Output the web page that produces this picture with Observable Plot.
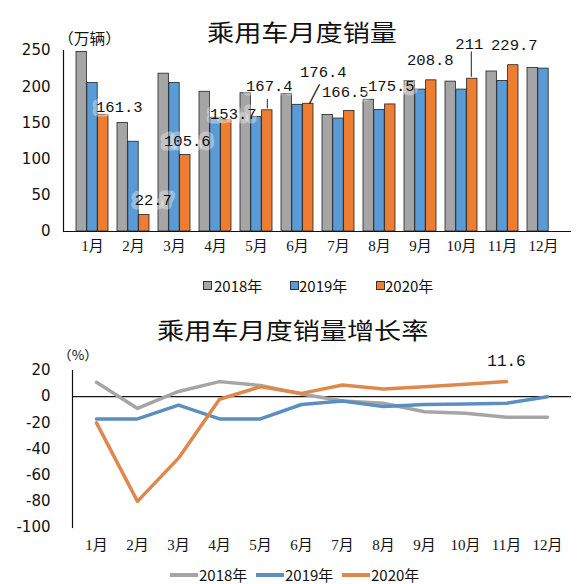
<!DOCTYPE html>
<html>
<head>
<meta charset="utf-8">
<script src="https://cdn.jsdelivr.net/npm/d3@7"></script>
<script src="https://cdn.jsdelivr.net/npm/@observablehq/plot@0.6"></script>
<style>
  body { margin: 0; background: #fff; }
  #wrap { position: relative; width: 585px; height: 584px; overflow: hidden; font-family: "Noto Sans CJK SC", sans-serif; color: #111; }
  .abs { position: absolute; white-space: nowrap; line-height: 1; transform-origin: left center; }
  .title { font-size: 23px; transform: scaleX(1.18); }
  .unit { font-size: 15px; transform: scaleX(1.05); }
  .leg { font-size: 15px; }
  .sw { position: absolute; width: 7px; height: 7px; border: 1px solid #333; }
  .ln { position: absolute; height: 4px; }
  #top, #bottom { position: absolute; left: 0; }
  #top { top: 0; }
  #bottom { top: 300px; }
</style>
</head>
<body>
<div id="wrap">
  <div class="abs title" style="left:207px; top:20px;">乘用车月度销量</div>
  <div class="abs unit" style="left:58px; top:30px;">（万辆）</div>
  <div id="top"></div>

  <div class="sw" style="left:203px; top:281px; background:#a5a5a5"></div>
  <div class="abs leg" style="left:214px; top:278px;">2018年</div>
  <div class="sw" style="left:290px; top:281px; background:#5b9bd5"></div>
  <div class="abs leg" style="left:299px; top:278px;">2019年</div>
  <div class="sw" style="left:376px; top:281px; background:#ed7d31"></div>
  <div class="abs leg" style="left:385px; top:278px;">2020年</div>

  <div class="abs title" style="left:157px; top:318px;">乘用车月度销量增长率</div>
  <div class="abs unit" style="left:58px; top:348px; font-size:13px;">（%）</div>
  <div id="bottom"></div>

  <div class="ln" style="left:170px; top:573px; width:28px; background:#a5a5a5"></div>
  <div class="abs leg" style="left:199px; top:567px;">2018年</div>
  <div class="ln" style="left:256px; top:573px; width:28px; background:#5b8fbf"></div>
  <div class="abs leg" style="left:285px; top:567px;">2019年</div>
  <div class="ln" style="left:342px; top:573px; width:28px; background:#df884c"></div>
  <div class="abs leg" style="left:371px; top:567px;">2020年</div>
</div>
<script>
const months = ["1月", "2月", "3月", "4月", "5月", "6月", "7月", "8月", "9月", "10月", "11月", "12月"]
const years = ["2018年", "2019年", "2020年"]

// 万辆
const sales2018 = [248, 150, 218, 193, 191, 190, 161, 182, 208, 207, 221, 226]
const sales2019 = [205, 124, 205, 157, 158, 175, 156, 168, 196, 196, 208, 225]
const sales2020 = [161.3, 22.7, 105.6, 153.7, 167.4, 176.4, 166.5, 175.5, 208.8, 211, 229.7]

// %
const growth2018 = [11, -9, 4, 11.5, 8.5, 2, -3.3, -5, -11.5, -12.7, -15.8, -15.8]
const growth2019 = [-17, -17, -6.4, -17, -17, -6, -3.3, -7.6, -6, -5.6, -5, 0]
const growth2020 = [-20, -80, -47, -2, 7.6, 2.5, 8.9, 5.9, 7.6, 9.4, 11.6]

const barColors = ["#a5a5a5", "#5b9bd5", "#ed7d31"]
const lineColors = ["#a5a5a5", "#5b8fbf", "#df884c"]

let bars = []
;[sales2018, sales2019, sales2020].forEach((s, j) => {
  s.forEach((v, i) => bars.push({month: months[i], year: years[j], value: v}))
})

let growth = []
;[growth2018, growth2019, growth2020].forEach((s, j) => {
  s.forEach((v, i) => growth.push({month: months[i], year: years[j], value: v}))
})

// bar chart: month bands split in three by insets
const topW = 585, mL = 63, mR = 14, pad = 0.22
const step = (topW - mL - mR) / (months.length + pad)
const third = step * (1 - pad) / 3

// label nudges for the 2020 values, in px from the top of the orange bar
const nudges = [[16, -8], [9, -15], [2, -14], [7, -6], [2, -24], [15, -32], [-4, -19], [1, -18], [-1, -20], [-3, -35], [1, -20]]

const labelMarks = sales2020.map((v, i) => Plot.text([{month: months[i], value: v}], {
  x: 'month',
  y: 'value',
  text: d => String(d.value),
  dx: third + nudges[i][0],
  dy: nudges[i][1],
  fontFamily: 'Liberation Mono, monospace',
  fontSize: 15.5,
  fill: '#111',
  stroke: 'white',
  strokeOpacity: 0.35,
  strokeWidth: 9,
}))

let topChart = Plot.plot({
  width: topW,
  height: 260,
  marginTop: 50,
  marginBottom: 29,
  marginLeft: mL,
  marginRight: mR,
  style: {fontSize: '15px', fontFamily: 'Liberation Serif, Noto Sans CJK SC, serif', color: '#111', background: 'transparent'},
  x: {domain: months, padding: pad, label: null, tickSize: 0, tickPadding: 9},
  y: {domain: [0, 250], ticks: [0, 50, 100, 150, 200, 250], label: null, tickSize: 0, tickPadding: 13},
  marks: [
    Plot.barY(bars.filter(d => d.year === years[0]), {x: 'month', y: 'value', fill: barColors[0], stroke: '#222', strokeWidth: 0.8, insetRight: 2 * third}),
    Plot.barY(bars.filter(d => d.year === years[1]), {x: 'month', y: 'value', fill: barColors[1], stroke: '#222', strokeWidth: 0.8, insetLeft: third, insetRight: third}),
    Plot.barY(bars.filter(d => d.year === years[2]), {x: 'month', y: 'value', fill: barColors[2], stroke: '#222', strokeWidth: 0.8, insetLeft: 2 * third}),
    Plot.ruleY([0], {stroke: '#111', strokeWidth: 1.2}),
    Plot.frame({anchor: 'left', stroke: '#111', strokeWidth: 1.2}),
    ...labelMarks,
    // leader lines
    Plot.ruleX([{month: '5月', value: 167.4}], {x: 'month', y1: d => d.value + 2, y2: d => d.value + 15, dx: third, stroke: '#222'}),
    Plot.ruleX([{month: '10月', value: 211}], {x: 'month', y1: d => d.value + 2, y2: d => d.value + 37, dx: third - 1, stroke: '#222'}),
    Plot.text([{month: '6月', value: 176.4}], {x: 'month', y: 'value', text: () => '╱', dx: third + 6, dy: -9, fontSize: 17, fontFamily: 'DejaVu Sans Mono', fill: '#222'}),
  ]
})

let bottomChart = Plot.plot({
  width: 585,
  height: 257,
  marginTop: 70,
  marginBottom: 30,
  marginLeft: 72,
  marginRight: 14,
  style: {fontSize: '15px', fontFamily: 'Liberation Serif, Noto Sans CJK SC, serif', color: '#111', background: 'transparent'},
  x: {type: 'point', domain: months, padding: 0.5, label: null, tickSize: 0, tickPadding: 12},
  y: {domain: [-100, 20], ticks: d3.range(-100, 21, 20), tickFormat: d => String(d), label: null, tickSize: 0, tickPadding: 22},
  color: {domain: years, range: lineColors},
  marks: [
    Plot.ruleY([0], {stroke: '#111', strokeWidth: 1.2}),
    Plot.frame({anchor: 'left', stroke: '#111', strokeWidth: 1.2}),
    Plot.line(growth, {x: 'month', y: 'value', z: 'year', stroke: 'year', strokeWidth: 3.5}),
    Plot.text([{month: '11月', value: 11.6}], {x: 'month', y: 'value', text: d => String(d.value), dy: -21, fontFamily: 'Liberation Mono, monospace', fontSize: 16, fill: '#111'}),
  ]
})

d3.select('#top').append(() => topChart)
d3.select('#bottom').append(() => bottomChart)

// y tick labels in a sans face, like the original
d3.selectAll('#top svg g[aria-label="y-axis tick label"] text, #bottom svg g[aria-label="y-axis tick label"] text')
  .style('font-family', 'DejaVu Sans, sans-serif')
</script>
</body>
</html>
